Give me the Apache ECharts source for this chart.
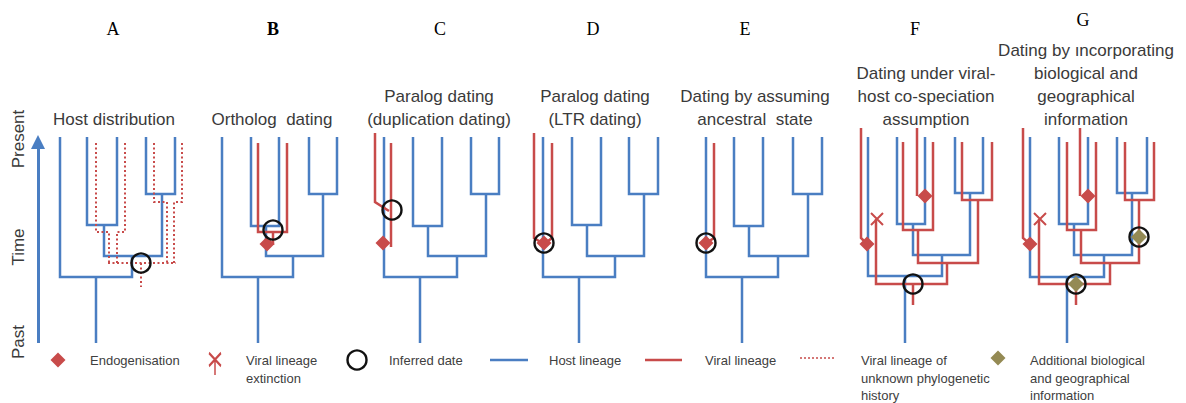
<!DOCTYPE html>
<html><head><meta charset="utf-8">
<script src="https://cdn.jsdelivr.net/npm/echarts@6/dist/echarts.min.js"></script>
<style>html,body{margin:0;padding:0;background:#fff}#c{width:1186px;height:403px}</style>
</head><body><div id="c"></div>
<script>
// ---------- DATA (diagram coordinates on the value axes) ----------
const panelLetters = ['A','B','C','D','E','F','G'];
const panelTitles = [
  ['Host distribution'],
  ['Ortholog  dating'],
  ['Paralog dating','(duplication dating)'],
  ['Paralog dating','(LTR dating)'],
  ['Dating by assuming','ancestral  state'],
  ['Dating under viral-','host co-speciation','assumption'],
  ['Dating by ıncorporating','biological and','geographical','information']
];
const timeLabels = ['Present','Time','Past'];
const legendLabels = [
  ['Endogenisation'],
  ['Viral lineage','extinction'],
  ['Inferred date'],
  ['Host lineage'],
  ['Viral lineage'],
  ['Viral lineage of','unknown phylogenetic','history'],
  ['Additional biological','and geographical','information']
];

// host lineage paths (blue)
const hostLineage = [
  // A
  [[87,137],[87,225],[117,225],[117,137]],
  [[146,137],[146,194],[175,194],[175,137]],
  [[104,225],[104,256],[162,256],[162,194]],
  [[60,137],[60,277],[132,277],[132,256]],
  [[96,277],[96,343]],
  // B
  [[251,137],[251,226],[279,226],[279,137]],
  [[309,137],[309,194],[337,194],[337,137]],
  [[266,226],[266,256],[323,256],[323,194]],
  [[222,137],[222,277],[293,277],[293,256]],
  [[258,277],[258,343]],
  // C
  [[413,137],[413,226],[442,226],[442,137]],
  [[471,137],[471,194],[499,194],[499,137]],
  [[428,226],[428,256],[486,256],[486,194]],
  [[384,137],[384,277],[457,277],[457,256]],
  [[420,277],[420,343]],
  // D
  [[572,137],[572,225],[601,225],[601,137]],
  [[629,137],[629,194],[658,194],[658,137]],
  [[587,225],[587,256],[644,256],[644,194]],
  [[543,137],[543,277],[615,277],[615,256]],
  [[579,277],[579,343]],
  // E
  [[734,137],[734,226],[763,226],[763,137]],
  [[793,137],[793,194],[822,194],[822,137]],
  [[749,226],[749,256],[808,256],[808,194]],
  [[706,137],[706,277],[778,277],[778,256]],
  [[742,277],[742,343]],
  // F
  [[897,137],[897,224],[925,224],[925,137]],
  [[955,137],[955,193],[983,193],[983,137]],
  [[913,224],[913,255],[970,255],[970,193]],
  [[868,137],[868,276],[942,276],[942,255]],
  [[905,276],[905,343]],
  // G
  [[1059,137],[1059,224],[1088,224],[1088,137]],
  [[1117,137],[1117,193],[1147,193],[1147,137]],
  [[1074,224],[1074,255],[1132,255],[1132,193]],
  [[1030,137],[1030,277],[1104,277],[1104,255]],
  [[1067,277],[1067,343]]
];
// viral lineage paths (red)
const viralLineage = [
  // B
  [[258,143],[258,232],[287,232],[287,143]],
  [[273,232],[273,245]],
  // C
  [[375,133],[375,202],[389,211]],
  [[391,143],[391,247]],
  // D
  [[534,133],[534,238],[544,244]],
  [[552,143],[552,238],[544,244]],
  // E
  [[714,143],[714,238],[706,243]],
  // F
  [[861,128],[861,238],[867,244]],
  [[876,219],[876,284],[947,284],[947,263]],
  [[903,142],[903,230],[933,230],[933,142]],
  [[917,128],[917,196]],
  [[918,230],[918,263],[978,263],[978,200]],
  [[962,142],[962,200],[992,200],[992,142]],
  [[913,284],[913,305]],
  // G
  [[1023,128],[1023,238],[1030,244]],
  [[1039,219],[1039,284],[1110,284],[1110,263]],
  [[1067,142],[1067,230],[1096,230],[1096,142]],
  [[1080,128],[1080,196]],
  [[1081,230],[1081,263],[1139,263],[1139,200]],
  [[1125,142],[1125,200],[1154,200],[1154,142]],
  [[1076,284],[1076,305]]
];
// viral lineage of unknown phylogenetic history (red dotted, panel A)
const viralUnknown = [
  [[96,143],[96,232],[109,232],[109,263]],
  [[125,143],[125,232],[117,232],[117,263]],
  [[154,143],[154,202],[167,202],[167,263]],
  [[182,143],[182,202],[174,202],[174,263]],
  [[108,263],[176,263]],
  [[141,263],[141,287]]
];
const timeArrow = [[[38,343],[38,142]]];
const endogenisation = [[267,244],[383,243],[544,243],[706,243],[867,244],[925,196],[1030,244],[1088,196]];
const extinction = [[877,219],[1040,219]];
const inferredDate = [[141,263],[273,230],[392,210],[544,243],[706,243],[913,284],[1139,237],[1076,284]];
const additionalInfo = [[1139,237],[1076,284]];
// legend keys
const legendHostKey = [[[490,360],[528,360]]];
const legendViralKey = [[[645,360],[682,360]]];
const legendUnknownKey = [[[800,358],[836,358]]];
const legendDiamond = [[58,360]];
const legendExtinction = [[215,364]];
const legendCircle = [[357,360]];
const legendOlive = [[998,358]];

// ---------- STYLE ----------
const BLUE = '#4a7ec2', RED = '#c84b4a', OLIVE = '#948a54', TXT = '#3a3a3a';
const SANS = '"Liberation Sans", Arial, sans-serif';
const SERIF = '"Liberation Serif", "Times New Roman", serif';

const letterPos = [[113,29],[273,29],[440,29],[593,29],[745,29],[915,29],[1083,20]];
const titleCenters = [114,272,439,595,755,926,1086];
const titleBottom = 119, titleStep = 22.8;
const timePos = [139,247,342];
const legendTextX = [90,246,389,549,705,861,1030];
const legendLineY = [360,378,395];

const graphics = [];
panelLetters.forEach((l,i)=>{
  graphics.push({type:'text', x:letterPos[i][0], y:letterPos[i][1], silent:true,
    style:{text:l, font:(i===1?'bold ':'')+'18px '+SERIF, fill:'#000', textAlign:'center', textVerticalAlign:'middle'}});
});
panelTitles.forEach((lines,i)=>{
  lines.forEach((t,j)=>{
    const y = titleBottom - (lines.length-1-j)*titleStep;
    graphics.push({type:'text', x:titleCenters[i], y:y, silent:true,
      style:{text:t, font:'17px '+SANS, fill:TXT, textAlign:'center', textVerticalAlign:'middle'}});
  });
});
timeLabels.forEach((t,i)=>{
  graphics.push({type:'text', x:18, y:timePos[i], rotation:Math.PI/2, silent:true,
    style:{text:t, font:'17px '+SANS, fill:TXT, textAlign:'center', textVerticalAlign:'middle'}});
});
legendLabels.forEach((lines,i)=>{
  lines.forEach((t,j)=>{
    graphics.push({type:'text', x:legendTextX[i], y:legendLineY[j], silent:true,
      style:{text:t, font:'13px '+SANS, fill:'#404040', textAlign:'left', textVerticalAlign:'middle'}});
  });
});

function linesSeries(paths, color, width, type, z, extra){
  return Object.assign({
    type:'lines', coordinateSystem:'cartesian2d', polyline:true, silent:true, z:z,
    lineStyle:{color:color, width:width, type:type, opacity:1, cap:'butt', join:'miter'},
    data: paths.map(p=>({coords:p})), animation:false
  }, extra||{});
}
function scatterSeries(pts, symbol, size, itemStyle, z){
  return {type:'scatter', symbol:symbol, symbolSize:size, data:pts,
    itemStyle:Object.assign({opacity:1}, itemStyle), z:z, silent:true, animation:false};
}

const chart = echarts.init(document.getElementById('c'), null, {renderer:'svg'});
chart.setOption({
  backgroundColor:'#fff',
  animation:false,
  grid:{left:0,right:0,top:0,bottom:0},
  xAxis:{type:'value', min:0, max:1186, show:false},
  yAxis:{type:'value', min:0, max:403, inverse:true, show:false},
  graphic: graphics,
  series:[
    linesSeries(hostLineage, BLUE, 2.5, 'solid', 3),
    linesSeries(legendHostKey, BLUE, 2.5, 'solid', 3),
    linesSeries(timeArrow, BLUE, 3, 'solid', 3, {polyline:false, symbol:['none','triangle'], symbolSize:[12,14]}),
    linesSeries(viralUnknown, RED, 2, [2,2.5], 4),
    linesSeries(legendUnknownKey, RED, 1.6, [2,2], 4),
    linesSeries(viralLineage, RED, 2.5, 'solid', 5),
    linesSeries(legendViralKey, RED, 2.5, 'solid', 5),
    scatterSeries(endogenisation, 'diamond', 15, {color:RED}, 6),
    scatterSeries(legendDiamond, 'diamond', 15, {color:RED}, 6),
    scatterSeries(additionalInfo, 'diamond', 16, {color:OLIVE}, 6),
    scatterSeries(legendOlive, 'diamond', 15, {color:OLIVE}, 6),
    scatterSeries(extinction, 'path://M0,0L10,10M10,0L0,10', 12, {color:'transparent', borderColor:RED, borderWidth:2}, 6),
    scatterSeries(legendExtinction, 'path://M0,0L12,13M12,0L0,13M6,6.5L6,22', [12,22], {color:'transparent', borderColor:RED, borderWidth:2}, 6),
    scatterSeries(inferredDate, 'circle', 19, {color:'transparent', borderColor:'#111', borderWidth:2.4}, 7),
    scatterSeries(legendCircle, 'circle', 19, {color:'transparent', borderColor:'#111', borderWidth:2.4}, 7)
  ]
});
</script></body></html>
